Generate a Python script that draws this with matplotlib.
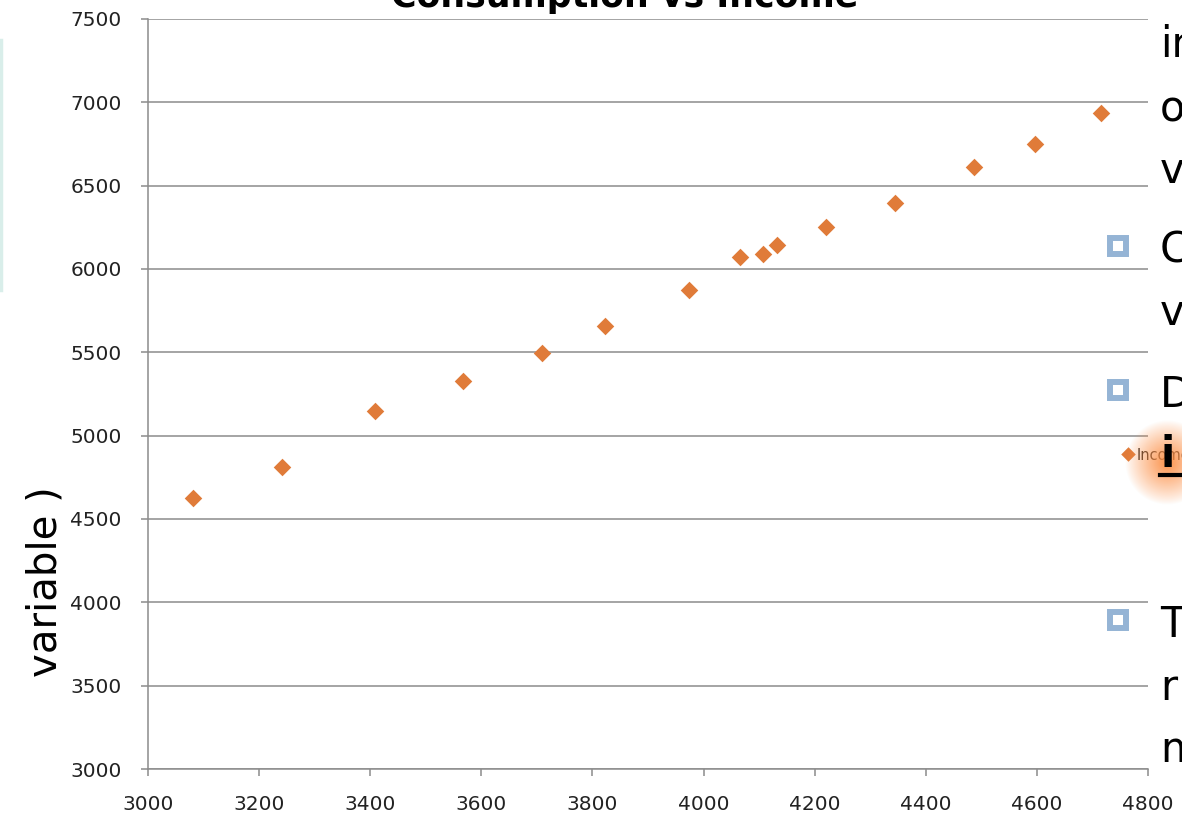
import numpy as np
import matplotlib
matplotlib.use("Agg")
import matplotlib.pyplot as plt

# ---- data ----
income = [3081, 3241, 3409, 3567, 3709, 3823, 3974, 4066, 4107, 4132, 4220, 4345, 4487, 4597, 4715]
consumption = [4626, 4812, 5148, 5328, 5496, 5658, 5874, 6072, 6090, 6144, 6252, 6396, 6612, 6750, 6936]
x_ticks = [3000, 3200, 3400, 3600, 3800, 4000, 4200, 4400, 4600, 4800]
y_ticks = [3000, 3500, 4000, 4500, 5000, 5500, 6000, 6500, 7000, 7500]
title = "Consumption vs Income"
ylabel = "variable )"
series_name = "Income"
side_text = ["in", "o", "v", "C", "v", "D", "i", "T", "r", "m"]

W, H = 1182, 822
fig = plt.figure(figsize=(W / 100, H / 100), dpi=100)
fig.patch.set_facecolor("white")

ax = fig.add_axes([148 / W, 1 - 769 / H, 1000 / W, 750 / H])
grid_c = "#8c8c8c"
orange = "#E07B39"
ax.scatter(income, consumption, marker="D", s=80, color=orange, zorder=3, linewidths=0)
ax.set_xlim(3000, 4800)
ax.set_ylim(3000, 7500)
ax.set_xticks(x_ticks)
ax.set_yticks(y_ticks)
ax.grid(axis="y", color=grid_c, linewidth=1.1)
ax.set_axisbelow(True)
for s in ["top", "right"]:
    ax.spines[s].set_visible(False)
for s in ["left", "bottom"]:
    ax.spines[s].set_color(grid_c)
    ax.spines[s].set_linewidth(1.1)
ax.tick_params(axis="both", direction="out", length=5, width=1.1, color=grid_c,
               labelsize=14.5, labelcolor="#222222", pad=14)
fig.text(625 / W, 1 - 7 / H, title, fontsize=25, fontweight="bold", ha="center", va="baseline")
fig.text(45 / W, 1 - 582 / H, ylabel, rotation=90, fontsize=29, ha="center", va="center")

# ---- decoration overlay (slide remnants) ----
ov = fig.add_axes([0, 0, 1, 1], facecolor="none")
ov.axis("off")

# faint teal edge on left
ov.plot([1.0, 1.0], [40, 290], color="#d9eeea", lw=2.5)

# legend entry
ov.scatter([1128], [454], marker="D", s=55, color=orange, linewidths=0, zorder=2)
ov.text(1137, 455, series_name, fontsize=10.5, va="center", ha="left", color="#222222", zorder=2)

# orange glow
gx, gy = np.meshgrid(np.linspace(-1, 1, 160), np.linspace(-1, 1, 160))
r = np.sqrt(gx ** 2 + gy ** 2)
alpha = np.clip(1 - r, 0, 1) ** 0.9 * 0.95
img = np.zeros((160, 160, 4))
img[..., 0] = 0.99
img[..., 1] = 0.56
img[..., 2] = 0.27
img[..., 3] = alpha
ov.imshow(img, extent=(1125, 1210, 505, 420), zorder=3, interpolation="bilinear")
ov.set_xlim(0, W)
ov.set_ylim(H, 0)
ov.set_aspect("auto")

# bullets
for by in [246, 390, 620]:
    ov.plot([1118], [by], marker="s", markersize=11.5,
            markerfacecolor="white", markeredgecolor="#95B4D5", markeredgewidth=4.3, zorder=4)

# side text
baselines = [57, 122, 183, 262, 325, 407, 467, 637, 700, 762]
for i, (t, b) in enumerate(zip(side_text, baselines)):
    ov.text(1160, b, t, fontsize=30, ha="left", va="baseline", color="black", zorder=5,
            fontweight="bold" if i == 6 else "normal")
ov.plot([1160, 1182], [475, 475], color="black", lw=3, zorder=5)

fig.savefig("out.png", dpi=100)
